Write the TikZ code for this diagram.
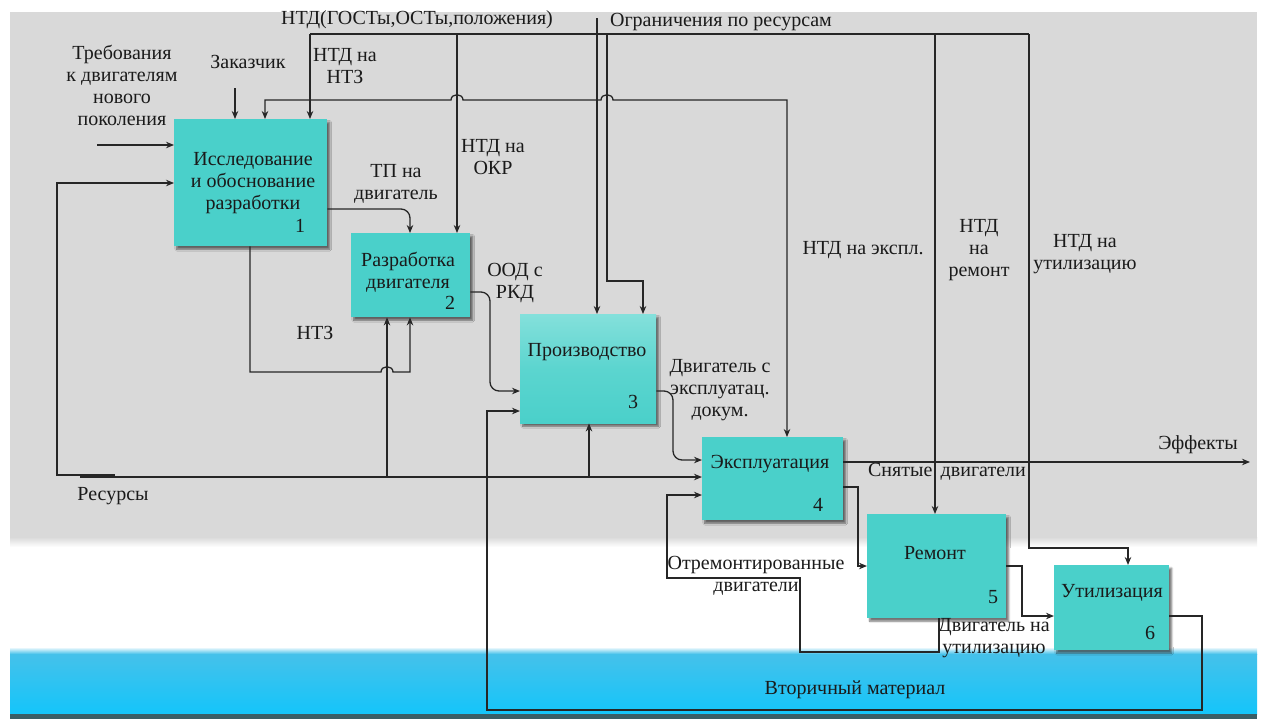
\documentclass[tikz,border=0pt]{standalone}
\usepackage{fontspec}
\setmainfont{Liberation Serif}
\usetikzlibrary{arrows.meta,shadows.blur}
\definecolor{bggray}{HTML}{D9D9D9}
\definecolor{boxc}{HTML}{4AD0CA}
\definecolor{boxlight}{HTML}{84E0DB}
\definecolor{cyantop}{HTML}{45C1EA}
\definecolor{cyanbot}{HTML}{14C5FA}
\definecolor{darkedge}{HTML}{3A5E66}
\definecolor{txt}{HTML}{1A1A1A}
\tikzset{
  lbl/.style={font=\fontsize{20}{22}\selectfont, align=center, inner sep=0pt, text=txt},
  proc/.style={fill=boxc, anchor=north west, inner sep=0pt,
    blur shadow={shadow xshift=2.5pt, shadow yshift=-3pt, shadow opacity=55, shadow blur steps=6}},
  conn/.style={line width=1.3pt, draw=black!85},
  arr/.style={conn, -{Stealth[length=8pt,width=6.5pt]}},
}
\begin{document}
\begin{tikzpicture}[x=1pt,y=-1pt]
\useasboundingbox (0,0) rectangle (1263,724);
% background
\fill[bggray] (10,12) rectangle (1257,537);
\shade[top color=bggray, bottom color=white] (10,537) rectangle (1257,547);
\shade[top color=white, bottom color=cyantop] (10,647) rectangle (1257,654);
\shade[top color=cyantop, bottom color=cyanbot] (10,654) rectangle (1257,714);
\fill[darkedge] (10,714) rectangle (1257,719);

% boxes
\node[proc, minimum width=153pt, minimum height=127pt] (b1) at (174,119) {};
\node[proc, minimum width=119pt, minimum height=84pt] (b2) at (351,233) {};
\node[proc, top color=boxlight, bottom color=boxc, middle color=boxc!70!boxlight, minimum width=136pt, minimum height=109pt] (b3) at (520,314) {};
\node[proc, minimum width=141pt, minimum height=83pt] (b4) at (702,437) {};
\node[proc, minimum width=139pt, minimum height=104pt] (b5) at (867,514) {};
\node[proc, minimum width=115pt, minimum height=85pt] (b6) at (1054,565) {};

% box texts
\node[lbl] (t1) at (253,183) {Исследование\\и обоснование\\разработки};
\node[lbl] (n1) at (300,226) {1};
\node[lbl] (t2) at (408,272) {Разработка\\двигателя};
\node[lbl] (n2) at (450,303) {2};
\node[lbl] (t3) at (587,352) {Производство};
\node[lbl] (n3) at (633,402) {3};
\node[lbl] (t4) at (770,464) {Эксплуатация};
\node[lbl] (n4) at (818,505) {4};
\node[lbl] (t5) at (935,553) {Ремонт};
\node[lbl] (n5) at (993,597) {5};
\node[lbl] (t6) at (1112,593) {Утилизация};
\node[lbl] (n6) at (1150,633) {6};

% labels
\node[lbl] (l1) at (122,85) {Требования\\к двигателям\\нового\\поколения};
\node[lbl] (l2) at (248,62) {Заказчик};
\node[lbl] (l3) at (417,20) {НТД(ГОСТы,ОСТы,положения)};
\node[lbl] (l4) at (345,66) {НТД на\\НТЗ};
\node[lbl] (l5) at (721,22) {Ограничения по ресурсам};
\node[lbl] (l6) at (396,184) {ТП на\\двигатель};
\node[lbl] (l7) at (493,157) {НТД на\\ОКР};
\node[lbl] (l8) at (315,333) {НТЗ};
\node[lbl] (l9) at (515,283) {ООД с\\РКД};
\node[lbl] (l10) at (720,390) {Двигатель с\\эксплуатац.\\докум.};
\node[lbl] (l11) at (863,250) {НТД на экспл.};
\node[lbl] (l12) at (979,250) {НТД\\на\\ремонт};
\node[lbl] (l13) at (1085,254) {НТД на\\утилизацию};
\node[lbl] (l14) at (1198,445) {Эффекты};
\node[lbl] (l15) at (947,472) {Снятые\, двигатели};
\node[lbl] (l16) at (756,576) {Отремонтированные\\двигатели};
\node[lbl] (l17) at (994,638) {Двигатель на\\утилизацию};
\node[lbl] (l18) at (855,690) {Вторичный материал};
\node[lbl] (l19) at (113,496) {Ресурсы};

% coordinates
\coordinate (reqS) at (97,145);
\coordinate (custS) at (235,88);
\coordinate (ntdL) at (310,34);
\coordinate (ntdR) at (1029,34);
\coordinate (j2) at (457,34);
\coordinate (j3) at (607,34);
\coordinate (k3) at (643,281);
\coordinate (j5) at (935,34);
\coordinate (k6) at (1128,548);
\coordinate (resTop) at (597,18);
\coordinate (rj) at (597,100);
\coordinate (k1) at (265,100);
\coordinate (k4) at (787,100);
\coordinate (k12) at (410,209);
\coordinate (k13a) at (250,372);
\coordinate (k13b) at (410,372);
\coordinate (resS) at (80,477);
\coordinate (r2) at (387,477);
\coordinate (r3) at (589,477);
\coordinate (rl0) at (115,475);
\coordinate (rl) at (57,183);
\coordinate (k23) at (490,292);
\coordinate (k23b) at (490,391);
\coordinate (k34) at (673,391);
\coordinate (k34b) at (673,460);
\coordinate (v1) at (1202,616);
\coordinate (v2) at (1202,710);
\coordinate (v3) at (487,710);
\coordinate (v4) at (487,411);
\coordinate (eff) at (1250,462);
\coordinate (s1) at (858,487);
\coordinate (s2) at (858,566);
\coordinate (o1) at (939,652);
\coordinate (o2) at (800,652);
\coordinate (o3) at (800,578);
\coordinate (o4) at (667,578);
\coordinate (o5) at (667,495);
\coordinate (u1) at (1022,566);
\coordinate (u2) at (1022,616);

% connectors
\draw[arr] (reqS) -- (reqS -| b1.west);
\draw[arr] (custS) -- (custS |- b1.north);
\draw[conn] (ntdL) -- (ntdR);
\draw[arr] (ntdL) -- (ntdL |- b1.north);
\draw[arr] (j2) -- (j2 |- b2.north);
\draw[arr] (j3) -- (j3 |- k3) -- (k3) -- (k3 |- b3.north);
\draw[arr] (j5) -- (j5 |- b5.north);
\draw[arr] (ntdR) -- (ntdR |- k6) -- (k6) -- (k6 |- b6.north);
\draw[arr] (resTop) -- (resTop |- b3.north);
\draw[arr] (rj) -- (463,100) .. controls (463,93) and (451,93) .. (451,100) -- (k1) -- (k1 |- b1.north);
\draw[arr] (rj) -- (601,100) .. controls (601,93) and (613,93) .. (613,100) -- (k4) -- (k4 |- b4.north);
\draw[arr, rounded corners=9pt] (k12 -| b1.east) -- (k12) -- (k12 |- b2.north);
\draw[arr] (k13a |- b1.south) -- (k13a) -- (381,372) .. controls (381,365) and (393,365) .. (393,372) -- (k13b) -- (k13b |- b2.south);
\draw[arr] (resS) -- (resS -| b4.west);
\draw[arr] (r2) -- (r2 |- b2.south);
\draw[arr] (r3) -- (r3 |- b3.south);
\draw[arr] (rl0) -- (rl0 -| rl) -- (rl) -- (rl -| b1.west);
\draw[arr, rounded corners=9pt] (k23 -| b2.east) -- (k23) -- (k23b) -- (k23b -| b3.west);
\draw[arr, rounded corners=9pt] (k34 -| b3.east) -- (k34) -- (k34b) -- (k34b -| b4.west);
\draw[arr] (v1 -| b6.east) -- (v1) -- (v2) -- (v3) -- (v4) -- (v4 -| b3.west);
\draw[arr] (eff -| b4.east) -- (eff);
\draw[arr] (s1 -| b4.east) -- (s1) -- (s2) -- (s2 -| b5.west);
\draw[arr] (o1 |- b5.south) -- (o1) -- (o2) -- (o3) -- (o4) -- (o5) -- (o5 -| b4.west);
\draw[arr] (u1 -| b5.east) -- (u1) -- (u2) -- (u2 -| b6.west);
\end{tikzpicture}
\end{document}
